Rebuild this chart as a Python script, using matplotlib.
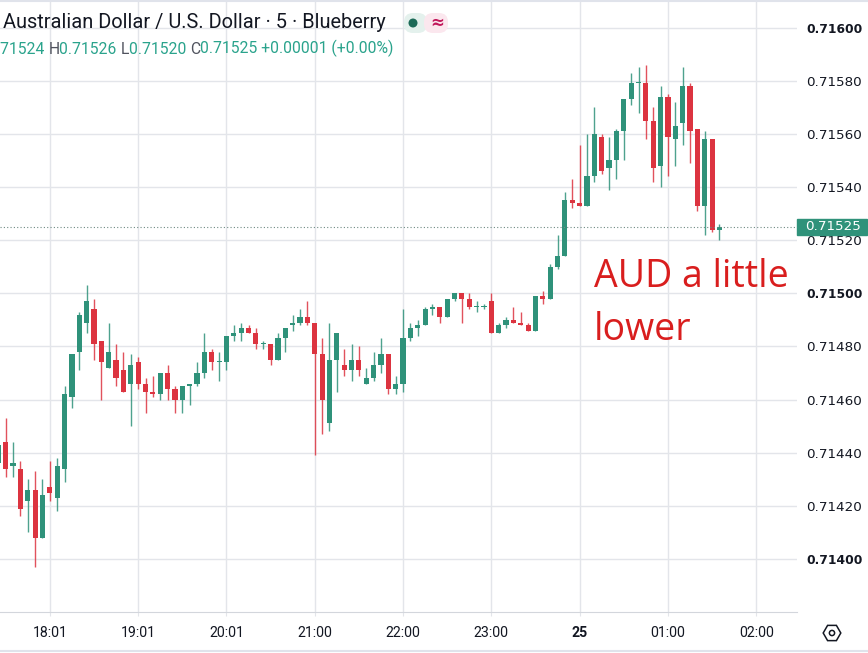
import numpy as np
import pandas as pd
import matplotlib
matplotlib.use("Agg")
import matplotlib.pyplot as plt
import matplotlib.transforms as mtransforms
from matplotlib.patches import Rectangle, RegularPolygon, Circle, FancyBboxPatch
from matplotlib.lines import Line2D

# 5 minute AUD/USD candles
opens = [0.71436, 0.71444, 0.71435, 0.71434, 0.71422, 0.71426, 0.71408, 0.71427, 0.71423, 0.71434,
         0.71461, 0.71478, 0.71489, 0.71494, 0.71482, 0.71472, 0.71475, 0.71471, 0.71466, 0.71474,
         0.71466, 0.71463, 0.71462, 0.71470, 0.71464, 0.71460, 0.71465, 0.71466, 0.71470, 0.71478,
         0.71474, 0.71474, 0.71484, 0.71485, 0.71487, 0.71485, 0.71481, 0.71481, 0.71475, 0.71483,
         0.71488, 0.71489, 0.71491, 0.71489, 0.71477, 0.71451, 0.71475, 0.71473, 0.71471, 0.71475,
         0.71466, 0.71468, 0.71473, 0.71477, 0.71464, 0.71466, 0.71483, 0.71487, 0.71488, 0.71494,
         0.71495, 0.71491, 0.71498, 0.71500, 0.71498, 0.71495, 0.71495, 0.71497, 0.71485, 0.71488,
         0.71490, 0.71489, 0.71488, 0.71486, 0.71499, 0.71498, 0.71510, 0.71514, 0.71535, 0.71534,
         0.71533, 0.71544, 0.71559, 0.71547, 0.71550, 0.71561, 0.71573, 0.71579, 0.71579, 0.71565,
         0.71548, 0.71574, 0.71558, 0.71564, 0.71578, 0.71562, 0.71533, 0.71558, 0.71524]
highs = [0.71445, 0.71453, 0.71444, 0.71437, 0.71430, 0.71433, 0.71430, 0.71437, 0.71438, 0.71465,
         0.71477, 0.71493, 0.71503, 0.71498, 0.71482, 0.71489, 0.71481, 0.71478, 0.71477, 0.71476,
         0.71468, 0.71469, 0.71470, 0.71473, 0.71465, 0.71465, 0.71466, 0.71474, 0.71485, 0.71479,
         0.71478, 0.71484, 0.71488, 0.71489, 0.71488, 0.71487, 0.71482, 0.71481, 0.71485, 0.71487,
         0.71492, 0.71494, 0.71497, 0.71489, 0.71483, 0.71489, 0.71485, 0.71479, 0.71481, 0.71480,
         0.71472, 0.71478, 0.71483, 0.71477, 0.71469, 0.71494, 0.71489, 0.71490, 0.71495, 0.71496,
         0.71495, 0.71498, 0.71500, 0.71500, 0.71500, 0.71497, 0.71496, 0.71500, 0.71489, 0.71491,
         0.71495, 0.71493, 0.71489, 0.71499, 0.71501, 0.71511, 0.71522, 0.71538, 0.71543, 0.71556,
         0.71560, 0.71570, 0.71560, 0.71559, 0.71562, 0.71573, 0.71583, 0.71585, 0.71586, 0.71570,
         0.71578, 0.71575, 0.71572, 0.71585, 0.71579, 0.71562, 0.71561, 0.71558, 0.71526]
lows = [0.71431, 0.71431, 0.71431, 0.71416, 0.71410, 0.71397, 0.71408, 0.71422, 0.71418, 0.71429,
        0.71457, 0.71471, 0.71485, 0.71475, 0.71460, 0.71472, 0.71465, 0.71463, 0.71450, 0.71464,
        0.71455, 0.71461, 0.71460, 0.71460, 0.71455, 0.71455, 0.71458, 0.71465, 0.71468, 0.71471,
        0.71467, 0.71471, 0.71482, 0.71482, 0.71485, 0.71479, 0.71479, 0.71473, 0.71475, 0.71478,
        0.71486, 0.71488, 0.71488, 0.71439, 0.71447, 0.71448, 0.71463, 0.71469, 0.71467, 0.71469,
        0.71466, 0.71467, 0.71470, 0.71462, 0.71462, 0.71463, 0.71482, 0.71484, 0.71488, 0.71492,
        0.71489, 0.71491, 0.71497, 0.71489, 0.71494, 0.71493, 0.71494, 0.71485, 0.71485, 0.71487,
        0.71489, 0.71488, 0.71486, 0.71486, 0.71496, 0.71498, 0.71509, 0.71514, 0.71532, 0.71533,
        0.71533, 0.71542, 0.71545, 0.71539, 0.71543, 0.71550, 0.71571, 0.71568, 0.71558, 0.71542,
        0.71540, 0.71544, 0.71548, 0.71556, 0.71549, 0.71531, 0.71522, 0.71523, 0.71520]
closes = [0.71443, 0.71434, 0.71436, 0.71419, 0.71426, 0.71408, 0.71424, 0.71425, 0.71435, 0.71462,
          0.71477, 0.71492, 0.71497, 0.71481, 0.71474, 0.71478, 0.71468, 0.71463, 0.71473, 0.71466,
          0.71463, 0.71462, 0.71470, 0.71464, 0.71460, 0.71465, 0.71466, 0.71470, 0.71478, 0.71474,
          0.71474, 0.71484, 0.71485, 0.71487, 0.71485, 0.71481, 0.71481, 0.71475, 0.71483, 0.71487,
          0.71489, 0.71491, 0.71489, 0.71477, 0.71460, 0.71475, 0.71485, 0.71471, 0.71475, 0.71471,
          0.71468, 0.71473, 0.71477, 0.71464, 0.71466, 0.71483, 0.71487, 0.71488, 0.71494, 0.71495,
          0.71491, 0.71498, 0.71500, 0.71498, 0.71495, 0.71495, 0.71495, 0.71485, 0.71488, 0.71490,
          0.71489, 0.71488, 0.71486, 0.71499, 0.71498, 0.71510, 0.71514, 0.71535, 0.71534, 0.71533,
          0.71544, 0.71560, 0.71546, 0.71550, 0.71561, 0.71573, 0.71579, 0.71579, 0.71565, 0.71547,
          0.71574, 0.71559, 0.71563, 0.71578, 0.71561, 0.71533, 0.71558, 0.71524, 0.71525]

first_bar = "2023-02-24 17:25"
hour_marks = pd.date_range("2023-02-24 18:00", "2023-02-25 02:00", freq="1h")
time_labels = ["18:01", "19:01", "20:01", "21:00", "22:00", "23:00", "25", "01:00", "02:00"]
price_ticks = [0.7140, 0.7142, 0.7144, 0.7146, 0.7148, 0.7150, 0.7152, 0.7154, 0.7156, 0.7158, 0.7160]
last_price = 0.71525

title = "Australian Dollar / U.S. Dollar \u00b7 5 \u00b7 Blueberry"
ohlc_parts = [("71524 ", "teal"), ("H", "dark"), ("0.71526 ", "teal"), ("L", "dark"),
              ("0.71520 ", "teal"), ("C", "dark"), ("0.71525 +0.00001 (+0.00%)", "teal")]
note_lines = ["AUD a little", "lower"]

up_col = "#2f927a"
down_col = "#dc3440"
grid_col = "#e3e5ea"
text_col = "#131722"
teal_txt = "#2aa38c"

W, H = 868, 653
fig = plt.figure(figsize=(W / 100, H / 100), dpi=100)
ax = fig.add_axes([0, 41 / H, 796.7 / W, 612 / H])

x = np.arange(len(closes))
o = np.array(opens)
c = np.array(closes)
cols = np.where(c >= o, up_col, down_col)
px = (0.716104 - 0.7138005) / 612.0
body = np.maximum(np.abs(c - o), px)

ax.vlines(x, lows, highs, colors=cols, lw=1, alpha=0.85, zorder=2)
ax.bar(x, body, bottom=np.minimum(o, c), width=0.7, color=cols, zorder=3)

ax.set_xlim(0.225, 108.5)
ax.set_ylim(0.7138005, 0.716104)

# x ticks at the hour marks
start = pd.Timestamp(first_bar)
tick_pos = [(t - start) / pd.Timedelta("5min") for t in hour_marks]
ax.set_xticks(tick_pos, time_labels)
for lbl in ax.get_xticklabels():
    lbl.set_fontfamily("Roboto")
    if lbl.get_text() == "25":
        lbl.set_fontweight("bold")

ax.yaxis.tick_right()
ax.set_yticks(price_ticks, [f"{v:.5f}" for v in price_ticks])
ax.tick_params(axis="x", length=3, color=grid_col, pad=7, labelsize=10.2,
               labelcolor=text_col)
ax.tick_params(axis="y", length=0, pad=7, labelsize=9.7, labelcolor=text_col)
for v, lbl in zip(price_ticks, ax.get_yticklabels()):
    if abs(v * 1000 - round(v * 1000)) < 1e-6:
        lbl.set_fontweight("bold")
        lbl.set_fontsize(8.9)

ax.grid(True, color=grid_col, lw=1)
ax.set_axisbelow(True)
for s in ["top", "left", "right"]:
    ax.spines[s].set_visible(False)
ax.spines["bottom"].set_color("#d3d6dc")

# last price line + label
ax.axhline(last_price, color="#6f8a83", ls=(0, (1, 2)), lw=0.8, zorder=4)
blend = mtransforms.blended_transform_factory(ax.transAxes, ax.transData)
ax.add_patch(Rectangle((1.0, last_price - 8 * px), 70 / 796.7, 16 * px, transform=blend,
                       color=up_col, clip_on=False, zorder=10))
ax.text(1 + 8 / 796.7, last_price, f"{last_price:.5f}", transform=blend, color="white",
        fontsize=9.7, va="center", ha="left", zorder=11, clip_on=False)

# annotation
fig.text(594 / W, 1 - 286.7 / H, note_lines[0], fontsize=27, color="#d91e1e",
         family="Open Sans", va="baseline")
fig.text(594 / W, 1 - 340 / H, note_lines[1], fontsize=27, color="#d91e1e",
         family="Open Sans", va="baseline")

# header
fig.text(3 / W, 1 - 28 / H, title, fontsize=14.4, color=text_col, family="Roboto",
         va="baseline")
t = fig.text(0, 1 - 54 / H, ohlc_parts[0][0], fontsize=11.3, color=teal_txt,
             family="Roboto", va="baseline")
for s, k in ohlc_parts[1:]:
    t = ax.annotate(s, xy=(1, 0), xycoords=t, va="bottom", ha="left", fontsize=11.3,
                    family="Roboto", color=teal_txt if k == "teal" else "#50535e",
                    annotation_clip=False)

pix = mtransforms.IdentityTransform()
fig.add_artist(FancyBboxPatch((404, H - 33), 23, 20, boxstyle="round,pad=0,rounding_size=9",
                              transform=pix, fc="#e4f1ed", ec="none"))
fig.add_artist(FancyBboxPatch((424, H - 33), 24, 20, boxstyle="round,pad=0,rounding_size=9",
                              transform=pix, fc="#fbe7ee", ec="none"))
fig.add_artist(Circle((413, H - 23), 4.5, transform=pix, fc="#1d6b58", ec="none"))
fig.text(437 / W, 1 - 23 / H, "\u2248", fontsize=12, color="#c2185b", ha="center",
         va="center", fontweight="bold")

# settings icon
fig.add_artist(RegularPolygon((832, H - 633), 6, radius=8.8, orientation=np.pi / 6,
                              transform=pix, fc="none", ec=text_col, lw=1.1))
fig.add_artist(Circle((832, H - 633), 2.6, transform=pix, fc="none", ec=text_col, lw=1.1))

# thin frame lines at top and bottom of the screenshot
fig.add_artist(Line2D([0, 1], [1 - 1 / H, 1 - 1 / H], transform=fig.transFigure,
                      color="#e0e3eb", lw=1.5))
fig.add_artist(Line2D([0, 1], [2 / H, 2 / H], transform=fig.transFigure,
                      color="#e0e3eb", lw=1.5))

fig.savefig("out.png", dpi=100)
